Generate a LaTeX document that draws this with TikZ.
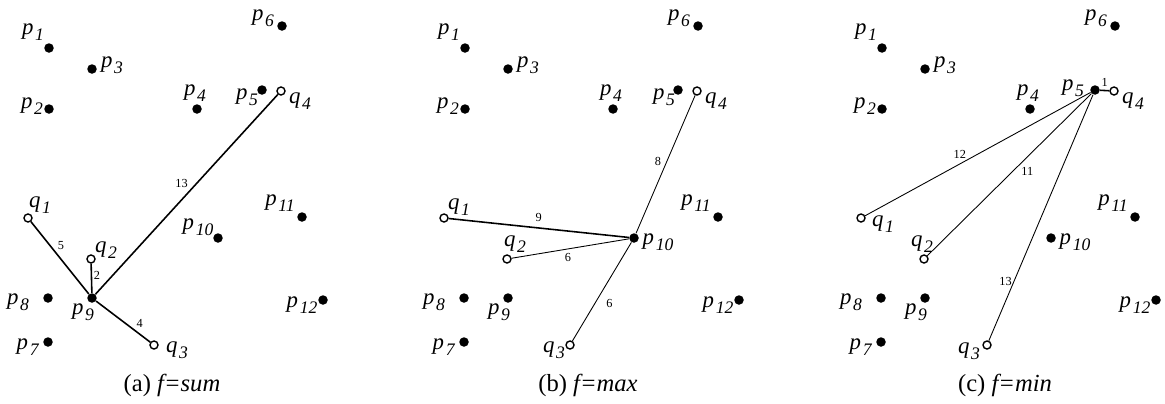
\documentclass[tikz,border=0pt]{standalone}
\usepackage{fontspec}
\setmainfont{Liberation Serif}
\usetikzlibrary{calc}
\tikzset{pnt/.style={circle,fill=black,inner sep=0pt,minimum size=1.9mm},
         qnt/.style={circle,draw,fill=white,inner sep=0pt,minimum size=1.6mm,line width=0.8pt},
         lbl/.style={inner sep=0pt,font=\fontsize{13}{15}\selectfont},
         elab/.style={inner sep=1pt,font=\fontsize{7}{8}\selectfont},
         thickedge/.style={line width=0.9pt},
         thinedge/.style={line width=0.5pt},
         capt/.style={inner sep=0pt,font=\fontsize{14}{16}\selectfont}
         }
\newcommand{\ptlab}[2]{\textit{#1}\kern1pt\raisebox{-.55ex}{\fontsize{10}{10}\selectfont\textit{#2}}}

\begin{document}
\begin{tikzpicture}[x=0.02cm,y=-0.02cm]
  \useasboundingbox (0,0) rectangle (1165,403);
  % the same point set in all three panels
  \foreach \s/\sh/\f in {a/0/sum,b/416/max,c/833/min} {
    \begin{scope}[shift={(\sh,0)},name prefix=\s-]
      \foreach \n/\x/\y/\dx/\dy in {1/49/48/-16/-16, 2/49/109/-17/-3, 3/92/69/20/-4,
          4/197/109/-2/-16, 6/282/26/-19/-8, 7/48/342/-20/5, 8/48/298/-30/4,
          9/92/298/-9/14, 11/302/217/-22/-14, 12/323/300/-21/5} {
        \node[pnt] (p\n) at (\x,\y) {};
        \node[lbl] (lp\n) at ([shift={(\dx,\dy)}]p\n) {\ptlab{p}{\n}};
      }
      \node[pnt] (p5) at (262,90) {};
      \node[pnt] (p10) at (218,238) {};
      \node[qnt] (q1) at (28,218) {};
      \node[qnt] (q2) at (91,259) {};
      \node[qnt] (q3) at (154,345) {};
      \node[qnt] (q4) at (281,91) {};
      \node[lbl] (lq4) at ([shift={(19,10)}]q4) {\ptlab{q}{4}};
      \node[capt] (cap) at (172,385) {(\s) \textit{f=\f}};
    \end{scope}
  }

  % (a) f=sum
  \node[lbl] (a-lp5) at ([shift={(-15,7)}]a-p5) {\ptlab{p}{5}};
  \node[lbl] (a-lp10) at ([shift={(-20,-11)}]a-p10) {\ptlab{p}{10}};
  \node[lbl] (a-lq1) at ([shift={(12,-13)}]a-q1) {\ptlab{q}{1}};
  \node[lbl] (a-lq2) at ([shift={(15,-9)}]a-q2) {\ptlab{q}{2}};
  \node[lbl] (a-lq3) at ([shift={(23,5)}]a-q3) {\ptlab{q}{3}};
  \draw[thickedge] (a-q1) -- node[elab,pos=.42,above right]{5} (a-p9);
  \draw[thickedge] (a-q2) -- node[elab,pos=.4,right]{2} (a-p9);
  \draw[thickedge] (a-p9) -- node[elab,pos=.52,above left]{13} (a-q4);
  \draw[thickedge] (a-p9) -- node[elab,pos=.7,above right]{4} (a-q3);

  % (b) f=max
  \node[lbl] (b-lp5) at ([shift={(-14,7)}]b-p5) {\ptlab{p}{5}};
  \node[lbl] (b-lp10) at ([shift={(24,4)}]b-p10) {\ptlab{p}{10}};
  \node[lbl] (b-lq1) at ([shift={(15,-11)}]b-q1) {\ptlab{q}{1}};
  \node[lbl] (b-lq2) at ([shift={(8,-15)}]b-q2) {\ptlab{q}{2}};
  \node[lbl] (b-lq3) at ([shift={(-16,5)}]b-q3) {\ptlab{q}{3}};
  \draw[thickedge] (b-q1) -- node[elab,pos=.5,above=2pt]{9} (b-p10);
  \draw[thinedge] (b-q2) -- node[elab,pos=.48,below=1pt]{6} (b-p10);
  \draw[thinedge] (b-p10) -- node[elab,pos=.52,below right=2pt]{6} (b-q3);
  \draw[thinedge] (b-p10) -- node[elab,pos=.52,left=2pt]{8} (b-q4);

  % (c) f=min
  \node[lbl] (c-lp5) at ([shift={(-22,-2)}]c-p5) {\ptlab{p}{5}};
  \node[lbl] (c-lp10) at ([shift={(24,4)}]c-p10) {\ptlab{p}{10}};
  \node[lbl] (c-lq1) at ([shift={(22,6)}]c-q1) {\ptlab{q}{1}};
  \node[lbl] (c-lq2) at ([shift={(-2,-15)}]c-q2) {\ptlab{q}{2}};
  \node[lbl] (c-lq3) at ([shift={(-18,6)}]c-q3) {\ptlab{q}{3}};
  \draw[thickedge] (c-p5) -- node[elab,pos=.5,above=1pt]{1} (c-q4);
  \draw[thinedge] (c-p5) -- node[elab,pos=.58,above=2pt]{12} (c-q1);
  \draw[thinedge] (c-p5) -- node[elab,pos=.44,below right]{11} (c-q2);
  \draw[thinedge] (c-p5) -- node[elab,pos=.76,left]{13} (c-q3);
\end{tikzpicture}
\end{document}
